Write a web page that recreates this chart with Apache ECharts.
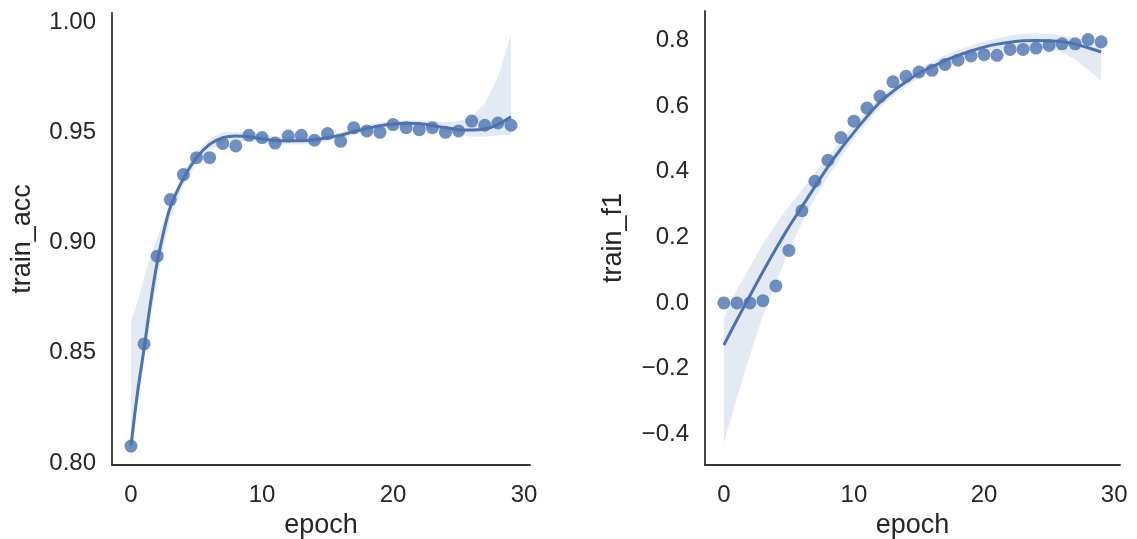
<!DOCTYPE html>
<html>
<head>
<meta charset="utf-8">
<script src="https://cdn.jsdelivr.net/npm/echarts@6/dist/echarts.min.js"></script>
<style>
html,body{margin:0;padding:0;background:#fff;}
#c{width:1137px;height:539px;}
</style>
</head>
<body>
<div id="c"></div>
<script>
// ---- data ----
const epochs = [0,1,2,3,4,5,6,7,8,9,10,11,12,13,14,15,16,17,18,19,20,21,22,23,24,25,26,27,28,29];
const trainAcc = [0.8077,0.854,0.8938,0.9195,0.9308,0.9385,0.9385,0.9449,0.9438,0.9486,0.9476,0.9451,0.9483,0.9486,0.9464,0.9494,0.9459,0.9521,0.9506,0.95,0.9535,0.9521,0.9512,0.9521,0.95,0.9506,0.9551,0.9532,0.9542,0.9532];
const trainF1 = [0.0,0.0,0.0,0.007,0.052,0.16,0.281,0.371,0.435,0.504,0.554,0.594,0.63,0.674,0.691,0.704,0.709,0.727,0.74,0.753,0.757,0.755,0.773,0.773,0.777,0.785,0.79,0.79,0.803,0.796];

// fitted regression curve and confidence band
const accFitX = [0,0.5,1,1.5,2,2.5,3,4,5,6,7,8,9,10,11,12,13,14,15,16,17,18,19,20,21,22,23,24,25,26,27,28,29];
const accFit  = [0.808,0.832,0.852,0.873,0.891,0.905,0.916,0.929,0.9385,0.9445,0.9475,0.9483,0.948,0.947,0.9463,0.9462,0.9462,0.9466,0.9475,0.9487,0.9503,0.9517,0.953,0.9538,0.9541,0.954,0.953,0.9521,0.9512,0.951,0.9515,0.9535,0.957];
const accUpper = [0.8645,0.873,0.884,0.894,0.902,0.91,0.919,0.932,0.941,0.947,0.95,0.95,0.95,0.949,0.948,0.948,0.948,0.948,0.949,0.95,0.952,0.953,0.9545,0.955,0.9555,0.9555,0.955,0.9545,0.955,0.957,0.963,0.975,0.9945];
const accLower = [0.80,0.826,0.846,0.866,0.884,0.898,0.911,0.926,0.936,0.942,0.945,0.946,0.946,0.945,0.9445,0.9445,0.9445,0.945,0.946,0.9472,0.9488,0.95,0.951,0.952,0.9525,0.952,0.951,0.95,0.949,0.948,0.948,0.9485,0.949];

const f1FitX = [0,1,2,3,4,5,6,7,8,9,10,11,12,13,14,15,16,17,18,19,20,21,22,23,24,25,26,27,28,29];
const f1Fit = [-0.128,-0.052,0.022,0.095,0.165,0.232,0.293,0.355,0.415,0.47,0.52,0.568,0.612,0.645,0.674,0.70,0.72,0.739,0.755,0.768,0.78,0.789,0.795,0.799,0.80,0.799,0.796,0.789,0.778,0.765];
const f1Upper = [-0.047,0.04,0.11,0.18,0.24,0.295,0.345,0.395,0.445,0.495,0.54,0.585,0.628,0.66,0.688,0.714,0.735,0.754,0.77,0.784,0.797,0.807,0.815,0.82,0.822,0.82,0.815,0.808,0.80,0.79];
const f1Lower = [-0.427,-0.29,-0.16,-0.04,0.06,0.16,0.245,0.32,0.385,0.445,0.50,0.55,0.595,0.63,0.66,0.686,0.706,0.724,0.74,0.753,0.765,0.773,0.778,0.78,0.779,0.774,0.764,0.742,0.71,0.677];

const xTicks = [0,10,20,30];
const accTicks = [0.80,0.85,0.90,0.95,1.00];
const f1Ticks = [-0.4,-0.2,0.0,0.2,0.4,0.6,0.8];

// ---- chart ----
const BLUE = '#4C72B0';
const TXT = '#262626';
const FONT = '"Liberation Sans", Arial, sans-serif';
const FS = 24;
const NFS = 27;

function zip(xs, ys){ return xs.map((x,i)=>[x,ys[i]]); }

function bandSeries(idx, xs, lo, hi){
  return {
    type:'custom', xAxisIndex:idx, yAxisIndex:idx, clip:true, silent:true, z:1,
    data:[[xs[0], lo[0]]],
    renderItem:function(params, api){
      const pts = [];
      for(let i=0;i<xs.length;i++) pts.push(api.coord([xs[i], hi[i]]));
      for(let i=xs.length-1;i>=0;i--) pts.push(api.coord([xs[i], lo[i]]));
      return {type:'polygon', shape:{points:pts}, style:{fill:'rgba(76,114,176,0.15)', stroke:null}};
    }
  };
}

function xAxis(idx){
  return {
    type:'value', gridIndex:idx, min:-1.45, max:30.45,
    name:'epoch', nameLocation:'middle', nameGap:34,
    nameTextStyle:{color:TXT, fontSize:NFS, fontFamily:FONT},
    axisLine:{show:true, onZero:false, lineStyle:{color:'#333', width:1.8}},
    axisTick:{show:false},
    splitLine:{show:false},
    axisLabel:{customValues:xTicks, color:TXT, fontSize:FS, fontFamily:FONT, margin:18,
      formatter:v=>String(v)}
  };
}
function yAxis(idx, name, min, max, ticks, dec, gap){
  return {
    type:'value', gridIndex:idx, min:min, max:max,
    name:name, nameLocation:'middle', nameGap:gap,
    nameTextStyle:{color:TXT, fontSize:NFS, fontFamily:FONT},
    axisLine:{show:true, onZero:false, lineStyle:{color:'#333', width:1.8}},
    axisTick:{show:false},
    splitLine:{show:false},
    axisLabel:{customValues:ticks, color:TXT, fontSize:FS, fontFamily:FONT, margin:16,
      formatter:v=>{const s=Math.abs(v).toFixed(dec); return (v< -1e-9?'\u2212':'')+s;}}
  };
}

const chart = echarts.init(document.getElementById('c'), null, {renderer:'canvas'});
chart.setOption({
  animation:false,
  backgroundColor:'#fff',
  grid:[
    {left:112, top:13, width:418, height:452, containLabel:false, outerBoundsMode:'none'},
    {left:705, top:11, width:415, height:454, containLabel:false, outerBoundsMode:'none'}
  ],
  xAxis:[xAxis(0), xAxis(1)],
  yAxis:[
    yAxis(0,'train_acc',0.7991,1.0041,accTicks,2,76),
    yAxis(1,'train_f1',-0.494,0.89,f1Ticks,1,78)
  ],
  series:[
    bandSeries(0, accFitX, accLower, accUpper),
    {type:'scatter', xAxisIndex:0, yAxisIndex:0, data:zip(epochs,trainAcc), symbolSize:13,
      itemStyle:{color:BLUE, opacity:0.8}, z:2},
    {type:'line', xAxisIndex:0, yAxisIndex:0, data:zip(accFitX,accFit), smooth:0.3, showSymbol:false,
      lineStyle:{color:BLUE, width:3}, z:3},
    bandSeries(1, f1FitX, f1Lower, f1Upper),
    {type:'scatter', xAxisIndex:1, yAxisIndex:1, data:zip(epochs,trainF1), symbolSize:13,
      itemStyle:{color:BLUE, opacity:0.8}, z:2},
    {type:'line', xAxisIndex:1, yAxisIndex:1, data:zip(f1FitX,f1Fit), smooth:0.3, showSymbol:false,
      lineStyle:{color:BLUE, width:3}, z:3}
  ]
});
</script>
</body>
</html>
